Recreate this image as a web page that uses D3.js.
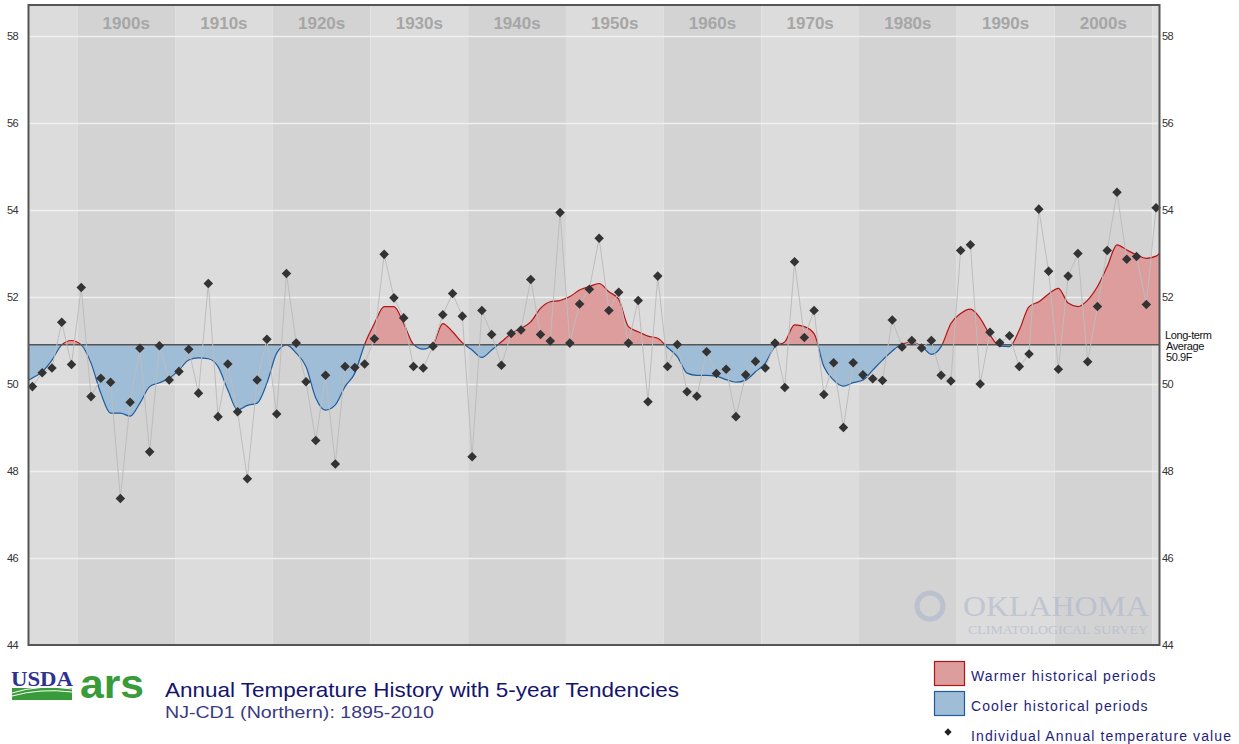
<!DOCTYPE html>
<html>
<head>
<meta charset="utf-8">
<script src="https://cdn.jsdelivr.net/npm/d3@7"></script>
<style>
  body { margin: 0; background: #fff; }
  svg text { font-family: Arial, "Liberation Sans", sans-serif; }
</style>
</head>
<body>
<svg id="chart" width="1239" height="744"></svg>
<script>
// annual values, 1895-2010
var years = d3.range(1895, 2011);
var annualTemp = [
  49.94, 50.26, 50.37, 51.42, 50.45, 52.22, 49.71, 50.13, 50.04, 47.37,
  49.58, 50.82, 48.44, 50.88, 50.09, 50.29, 50.80, 49.79, 52.31, 49.25,
  50.46, 49.36, 47.82, 50.09, 51.03, 49.31, 52.54, 50.94, 50.05, 48.70,
  50.20, 48.16, 50.40, 50.38, 50.46, 51.04, 52.98, 51.98, 51.52, 50.40,
  50.37, 50.87, 51.59, 52.08, 51.56, 48.33, 51.69, 51.14, 50.43, 51.16,
  51.24, 52.40, 51.14, 50.99, 53.94, 50.94, 51.84, 52.18, 53.35, 51.69,
  52.11, 50.94, 51.92, 49.59, 52.48, 50.40, 50.91, 49.82, 49.72, 50.74,
  50.24, 50.34, 49.25, 50.21, 50.52, 50.37, 50.94, 49.92, 52.81, 51.07,
  51.69, 49.76, 50.49, 49.00, 50.49, 50.21, 50.12, 50.08, 51.47, 50.85,
  51.00, 50.83, 51.00, 50.20, 50.07, 53.07, 53.20, 50.00, 51.19, 50.95,
  51.11, 50.40, 50.69, 54.02, 52.59, 50.34, 52.48, 53.00, 50.51, 51.78,
  53.07, 54.41, 52.87, 52.93, 51.83, 54.05
];
// 5-year tendency curve, read at each year
var tendency = [
  50.14, 50.28, 50.55, 50.90, 51.00, 50.90, 50.48, 49.79, 49.33, 49.33,
  49.26, 49.56, 49.94, 50.03, 50.13, 50.32, 50.55, 50.60, 50.58, 50.40,
  49.86, 49.40, 49.51, 49.56, 50.02, 50.71, 50.90, 50.71, 50.40, 49.68,
  49.40, 49.52, 49.94, 50.25, 50.91, 51.39, 51.78, 51.78, 51.39, 50.91,
  50.80, 50.91, 51.39, 51.20, 50.95, 50.78, 50.61, 50.78, 50.97, 51.16,
  51.28, 51.43, 51.74, 51.89, 51.92, 52.01, 52.16, 52.24, 52.31, 52.12,
  51.95, 51.32, 51.20, 51.10, 51.05, 50.84, 50.63, 50.25, 50.20, 50.20,
  50.18, 50.10, 50.04, 50.09, 50.28, 50.48, 50.86, 50.97, 51.36, 51.32,
  51.16, 50.40, 50.09, 49.95, 50.03, 50.09, 50.32, 50.55, 50.76, 50.92,
  50.96, 50.87, 50.68, 50.86, 51.39, 51.62, 51.72, 51.51, 51.13, 50.87,
  50.86, 51.24, 51.78, 51.89, 52.07, 52.20, 51.86, 51.78, 51.93, 52.24,
  52.70, 53.20, 53.08, 52.97, 52.89, 52.94
];
var longTermAvg = 50.9;
var decades = [1900, 1910, 1920, 1930, 1940, 1950, 1960, 1970, 1980, 1990, 2000];
var decadeLabels = ["1900s", "1910s", "1920s", "1930s", "1940s", "1950s", "1960s", "1970s", "1980s", "1990s", "2000s"];
var yTicks = [44, 46, 48, 50, 52, 54, 56, 58];
var legendItems = ["Warmer historical periods", "Cooler historical periods", "Individual Annual temperature value"];

var svg = d3.select("#chart");

// plot box (don't call these top/left etc, window.top is taken)
var pLeft = 28.5, pRight = 1159.5, pTop = 5, pBottom = 645;
var x = d3.scaleLinear().domain([1895, 2010.75]).range([pLeft, pRight]);
var y = d3.scaleLinear().domain([44, 58]).range([645, 36]);
var off = 0.4; // points sit a little into their year

// background bands, light before 1900, alternating per decade
var bandStarts = [1895].concat(decades).concat([2010]);
svg.append("g").selectAll("rect")
  .data(bandStarts)
  .enter().append("rect")
  .attr("x", d => x(d))
  .attr("y", pTop)
  .attr("width", (d, i) => x(i < bandStarts.length - 1 ? bandStarts[i + 1] : 2010.75) - x(d))
  .attr("height", pBottom - pTop)
  .attr("fill", (d, i) => i % 2 == 1 ? "#d3d3d3" : "#dcdcdc");

// gridlines
svg.append("g")
  .attr("transform", "translate(" + pLeft + ",0)")
  .call(d3.axisRight(y).tickValues(yTicks.slice(1)).tickSize(pRight - pLeft).tickFormat(""))
  .call(g => g.select(".domain").remove())
  .call(g => g.selectAll("line").attr("stroke", "#efefef").attr("stroke-width", 1.5));

// decade labels
svg.append("g").selectAll("text")
  .data(decades)
  .enter().append("text")
  .attr("x", d => x(d + 5))
  .attr("y", 29)
  .attr("text-anchor", "middle")
  .attr("font-size", 17)
  .attr("font-weight", "bold")
  .attr("fill", "#a6a6a6")
  .text((d, i) => decadeLabels[i]);

// watermark
var wm = svg.append("g").attr("opacity", 0.55);
wm.append("circle").attr("cx", 930).attr("cy", 606).attr("r", 13)
  .attr("fill", "none").attr("stroke", "#a9b3cb").attr("stroke-width", 5);
wm.append("text").attr("x", 963).attr("y", 616)
  .style("font-family", "'Liberation Serif', 'DejaVu Serif', serif")
  .attr("font-size", 30).attr("fill", "#a9b3cb")
  .attr("textLength", 186).attr("lengthAdjust", "spacingAndGlyphs")
  .text("OKLAHOMA");
wm.append("text").attr("x", 968).attr("y", 634)
  .style("font-family", "'Liberation Serif', 'DejaVu Serif', serif")
  .attr("font-size", 12).attr("fill", "#a9b3cb")
  .attr("textLength", 180).attr("lengthAdjust", "spacingAndGlyphs")
  .text("CLIMATOLOGICAL SURVEY");

// tendency areas clipped above / below the average
var defs = svg.append("defs");
defs.append("clipPath").attr("id", "clipWarm").append("rect")
  .attr("x", pLeft).attr("y", pTop).attr("width", pRight - pLeft).attr("height", y(longTermAvg) - pTop);
defs.append("clipPath").attr("id", "clipCool").append("rect")
  .attr("x", pLeft).attr("y", y(longTermAvg)).attr("width", pRight - pLeft).attr("height", pBottom - y(longTermAvg));

var tend = tendency.map((v, i) => ({ yr: years[i] + off, v: v }));
// stretch the curve out to the plot edges
tend.unshift({ yr: 1895, v: 50.09 });
tend.push({ yr: 2010.75, v: 53.0 });

var area = d3.area()
  .x(d => x(d.yr))
  .y0(y(longTermAvg))
  .y1(d => y(d.v))
  .curve(d3.curveMonotoneX);
var line = d3.line()
  .x(d => x(d.yr))
  .y(d => y(d.v))
  .curve(d3.curveMonotoneX);

svg.append("path").datum(tend).attr("d", area)
  .attr("fill", "#dd9d9d").attr("clip-path", "url(#clipWarm)");
svg.append("path").datum(tend).attr("d", area)
  .attr("fill", "#a0bdd8").attr("clip-path", "url(#clipCool)");
svg.append("path").datum(tend).attr("d", line)
  .attr("fill", "none").attr("stroke", "#b01515").attr("stroke-width", 1.2).attr("clip-path", "url(#clipWarm)");
svg.append("path").datum(tend).attr("d", line)
  .attr("fill", "none").attr("stroke", "#1d5c9e").attr("stroke-width", 1.2).attr("clip-path", "url(#clipCool)");

// long-term average line
svg.append("line")
  .attr("x1", pLeft).attr("x2", pRight)
  .attr("y1", y(longTermAvg)).attr("y2", y(longTermAvg))
  .attr("stroke", "#555").attr("stroke-width", 1.5);

// annual values
var pts = annualTemp.map((v, i) => ({ yr: years[i] + off, v: v }));
svg.append("path").datum(pts)
  .attr("d", d3.line().x(d => x(d.yr)).y(d => y(d.v)))
  .attr("fill", "none").attr("stroke", "#bdbdbd").attr("stroke-width", 1);

svg.append("g").selectAll("path")
  .data(pts)
  .enter().append("path")
  .attr("d", d3.symbol().type(d3.symbolDiamond2).size(58))
  .attr("transform", d => "translate(" + x(d.yr) + "," + y(d.v) + ")")
  .attr("fill", "#333");

// frame
svg.append("rect")
  .attr("x", pLeft).attr("y", pTop).attr("width", pRight - pLeft).attr("height", pBottom - pTop)
  .attr("fill", "none").attr("stroke", "#555").attr("stroke-width", 2);

// y axes
svg.append("g")
  .attr("transform", "translate(18,0)")
  .call(d3.axisLeft(y).tickValues(yTicks).tickSize(0).tickPadding(0))
  .call(g => g.select(".domain").remove())
  .call(g => g.selectAll("text").attr("font-size", 11).attr("fill", "#333").attr("letter-spacing", -0.6));
svg.append("g")
  .attr("transform", "translate(1162,0)")
  .call(d3.axisRight(y).tickValues(yTicks).tickSize(0).tickPadding(0))
  .call(g => g.select(".domain").remove())
  .call(g => g.selectAll("text").attr("font-size", 11).attr("fill", "#333").attr("letter-spacing", -0.6));

// long-term average label
var lt = svg.append("text").attr("x", 1165).attr("font-size", 11).attr("fill", "#111").attr("letter-spacing", -0.4);
lt.append("tspan").attr("x", 1165).attr("y", 339).text("Long-term");
lt.append("tspan").attr("x", 1166).attr("y", 350).text("Average");
lt.append("tspan").attr("x", 1166).attr("y", 361).text("50.9F");

// USDA / ARS logos
var logo = svg.append("g");
logo.append("text").attr("x", 11).attr("y", 686)
  .style("font-family", "'Liberation Serif', serif").attr("font-weight", "bold")
  .attr("font-size", 22).attr("fill", "#2e3192")
  .attr("textLength", 62).attr("lengthAdjust", "spacingAndGlyphs")
  .text("USDA");
logo.append("rect").attr("x", 12).attr("y", 688).attr("width", 60).attr("height", 12).attr("fill", "#3a9b3a");
logo.append("path").attr("d", "M12,693 Q40,684 72,689").attr("fill", "none").attr("stroke", "#fff").attr("stroke-width", 1);
logo.append("path").attr("d", "M12,696 Q40,688 72,692").attr("fill", "none").attr("stroke", "#fff").attr("stroke-width", 1);
logo.append("text").attr("x", 80).attr("y", 698)
  .attr("font-weight", "bold").attr("font-size", 40).attr("fill", "#3a9b3a")
  .attr("textLength", 64).attr("lengthAdjust", "spacingAndGlyphs")
  .text("ars");

// titles
svg.append("text").attr("x", 165).attr("y", 697)
  .attr("font-size", 21).attr("fill", "#14146e")
  .attr("textLength", 514).attr("lengthAdjust", "spacingAndGlyphs")
  .text("Annual Temperature History with 5-year Tendencies");
svg.append("text").attr("x", 165).attr("y", 718)
  .attr("font-size", 17).attr("fill", "#3a3a80")
  .attr("textLength", 269).attr("lengthAdjust", "spacingAndGlyphs")
  .text("NJ-CD1 (Northern): 1895-2010");

// legend
var lg = svg.append("g");
lg.append("rect").attr("x", 934.5).attr("y", 661.5).attr("width", 30).attr("height", 24)
  .attr("fill", "#dd9d9d").attr("stroke", "#b01515").attr("stroke-width", 1.2);
lg.append("rect").attr("x", 934.5).attr("y", 691.5).attr("width", 30).attr("height", 24)
  .attr("fill", "#a0bdd8").attr("stroke", "#1d5c9e").attr("stroke-width", 1.2);
lg.append("path")
  .attr("d", d3.symbol().type(d3.symbolDiamond2).size(34))
  .attr("transform", "translate(948,732)").attr("fill", "#222");
lg.selectAll("text.item")
  .data(legendItems)
  .enter().append("text")
  .attr("class", "item")
  .attr("x", 971)
  .attr("y", (d, i) => 681 + i * 30)
  .attr("font-size", 14)
  .attr("letter-spacing", 1.1)
  .attr("fill", "#1e1e7a")
  .text(d => d);
</script>
</body>
</html>
